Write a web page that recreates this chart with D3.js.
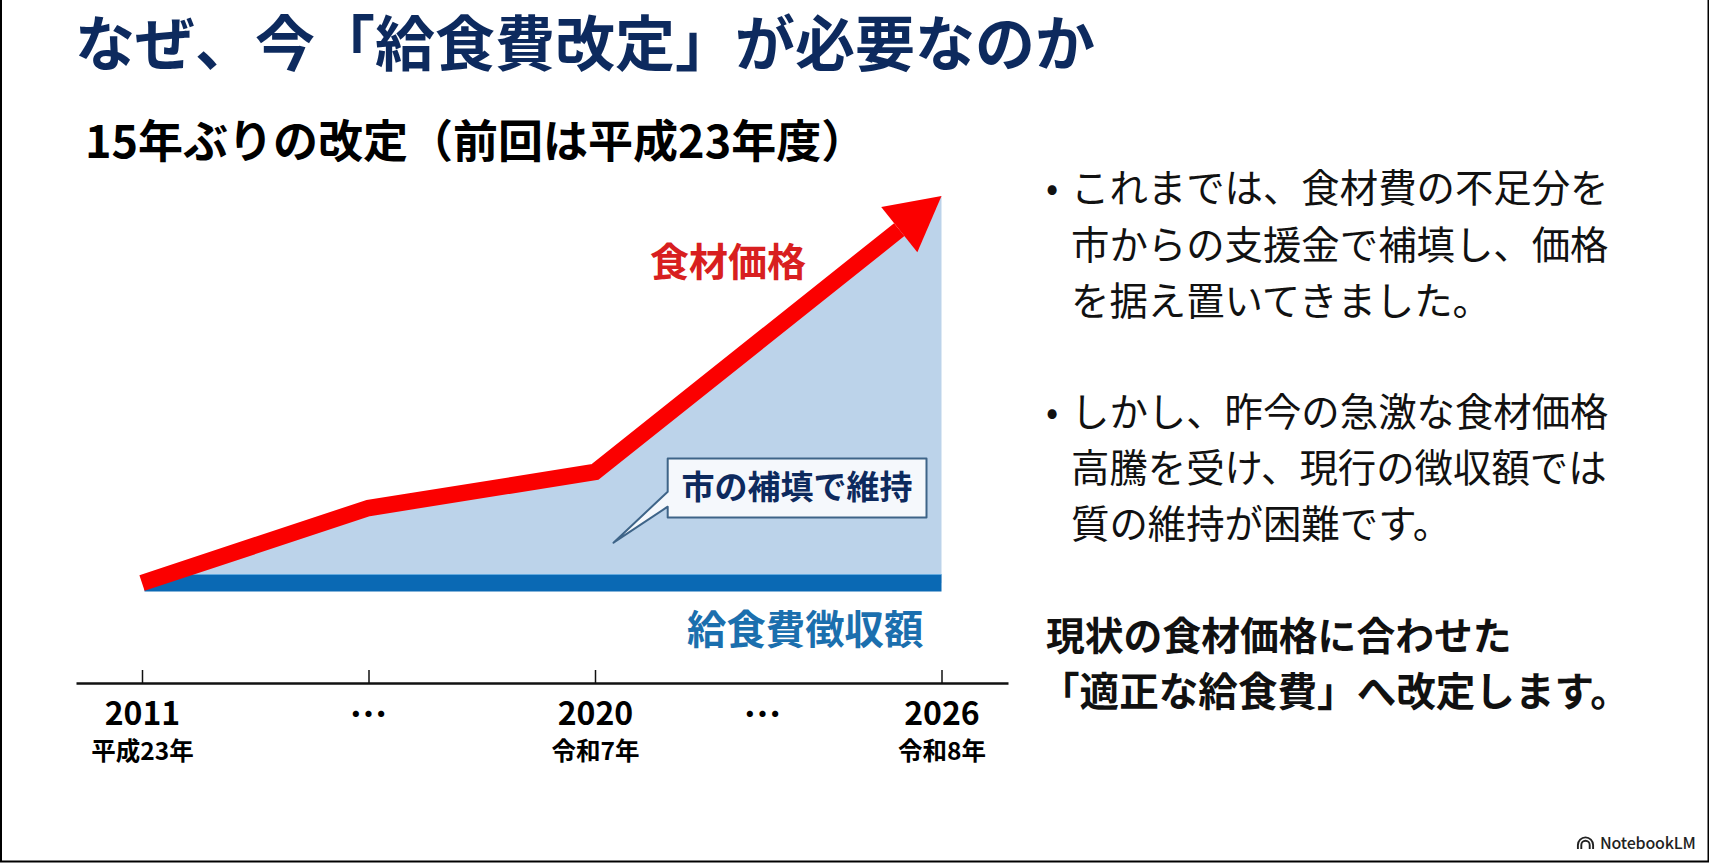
<!DOCTYPE html>
<html lang="ja">
<head>
<meta charset="utf-8">
<title>なぜ、今「給食費改定」が必要なのか</title>
<script src="https://cdn.jsdelivr.net/npm/d3@7/dist/d3.min.js"></script>
<style>
  html, body { margin: 0; padding: 0; background: #fff; overflow: hidden; }
  svg { display: block; }
  text { font-family: "Noto Sans CJK JP", "Noto Sans", sans-serif; }
</style>
</head>
<body>
<script>
// data (index, 2011 = 100)
const years = [2011, 2015.5, 2020, 2026];
const foodPrice = [100, 125, 137, 229];
const feeIncome = [100, 100, 100, 100];
const dotYears = [2015.5, 2022.9];
const tickYears = ["2011", "", "2020", "2026"];
const eraLabels = ["平成23年", "", "令和7年", "令和8年"];

const titleText = "なぜ、今「給食費改定」が必要なのか";
const subtitleText = "15年ぶりの改定（前回は平成23年度）";
const bodyLines = [
  "これまでは、食材費の不足分を",
  "市からの支援金で補填し、価格",
  "を据え置いてきました。",
  "しかし、昨今の急激な食材価格",
  "高騰を受け、現行の徴収額では",
  "質の維持が困難です。"
];
const boldLines = [
  "現状の食材価格に合わせた",
  "「適正な給食費」へ改定します。"
];

const width = 1709, height = 863;

const bodyY = [188, 245, 301, 412, 468, 524];
const bulletY = [188, 412];
const boldY = [636, 692];

const navy = "#0d2a5e", red = "#fb0000", blue = "#0a69b4", sky = "#bcd3ea";

const svg = d3.select("body").append("svg")
    .attr("width", width)
    .attr("height", height)
    .attr("viewBox", [0, 0, width, height]);

svg.append("rect").attr("width", width).attr("height", height).attr("fill", "#fff");

// the axis runs past both end years, and the two hidden stretches differ in scale
let x = d3.scaleLinear()
    .domain([2009.7, 2011, 2020, 2026, 2027.15])
    .range([76, 142, 595, 941.5, 1008]);

let y = d3.scaleLinear()
    .domain([100, 230])
    .range([583, 193]);

let rows = years.map((d, i) => ({year: d, food: foodPrice[i], fee: feeIncome[i]}));

// page frame
svg.append("path")
    .attr("d", `M1,0V${height - 1.5}H${width - 0.5}V0`)
    .attr("fill", "none")
    .attr("stroke", "#000")
    .attr("stroke-width", 2);

// headings
svg.append("text")
    .attr("x", 75).attr("y", 66)
    .attr("font-size", 60).attr("font-weight", 700)
    .attr("fill", navy)
    .text(titleText);

svg.append("text")
    .attr("x", 85).attr("y", 158)
    .attr("font-size", 45).attr("font-weight", 700)
    .attr("fill", "#000")
    .text(subtitleText);

// gap between food price and fee
let gap = d3.area()
    .x(d => x(d.year))
    .y0(d => y(d.fee))
    .y1(d => y(d.food));

svg.append("path")
    .datum(rows)
    .attr("d", gap)
    .attr("fill", sky);

// fee line, starts just inside the red line's cut end
let line = d3.line()
    .x(d => Math.max(x(d.year), x(2011.05)))
    .y(d => y(d.value));

let feeRows = rows.map(d => ({year: d.year, value: d.fee}));

svg.append("path")
    .datum(feeRows)
    .attr("d", line)
    .attr("fill", "none")
    .attr("stroke", blue)
    .attr("stroke-width", 17);

svg.append("path")
    .datum(feeRows)
    .attr("d", line)
    .attr("transform", "translate(0,-8.5)")
    .attr("fill", "none")
    .attr("stroke", "#62a9de")
    .attr("stroke-width", 1.2);

// food price line with the arrow head on its last segment
let headLength = 54, headHalf = 29;
let foodPts = rows.map(d => [x(d.year), y(d.food)]);
let tip = foodPts[foodPts.length - 1];
let prev = foodPts[foodPts.length - 2];
let angle = Math.atan2(tip[1] - prev[1], tip[0] - prev[0]);
let base = [tip[0] - headLength * Math.cos(angle), tip[1] - headLength * Math.sin(angle)];

svg.append("path")
    .attr("d", d3.line()([...foodPts.slice(0, -1), base]))
    .attr("fill", "none")
    .attr("stroke", red)
    .attr("stroke-width", 16.5)
    .attr("stroke-linejoin", "miter");

svg.append("path")
    .attr("d", d3.line()([
      tip,
      [base[0] + headHalf * Math.sin(angle), base[1] - headHalf * Math.cos(angle)],
      [base[0] - headHalf * Math.sin(angle), base[1] + headHalf * Math.cos(angle)]
    ]) + "Z")
    .attr("fill", red);

// series labels
svg.append("text")
    .attr("x", 650).attr("y", 276)
    .attr("font-size", 39).attr("font-weight", 700)
    .attr("fill", "#d81f20")
    .text("食材価格");

svg.append("text")
    .attr("x", 687).attr("y", 644)
    .attr("font-size", 39.4).attr("font-weight", 700)
    .attr("fill", "#1b6fae")
    .text("給食費徴収額");

// callout
svg.append("path")
    .attr("d", "M667.7,458.5H926.5V517.5H667.7V506.7L613.5,542.7L667.7,491.7Z")
    .attr("fill", "#f5f8fc")
    .attr("stroke", "#3e6488")
    .attr("stroke-width", 2)
    .attr("stroke-linejoin", "round");

svg.append("text")
    .attr("x", 797).attr("y", 499)
    .attr("text-anchor", "middle")
    .attr("font-size", 33).attr("font-weight", 700)
    .attr("fill", navy)
    .text("市の補填で維持");

// time axis, ticks point upward
let xAxis = g => g
    .attr("transform", "translate(0,683)")
    .call(d3.axisBottom(x)
        .tickValues(years)
        .tickSize(-13)
        .tickSizeOuter(0)
        .tickFormat((d, i) => tickYears[i]))
    .call(g => g.select(".domain").attr("stroke", "#111").attr("stroke-width", 2.5))
    .call(g => g.selectAll(".tick line").attr("stroke", "#111").attr("stroke-width", 1.5))
    .call(g => g.selectAll(".tick text")
        .attr("y", 42)
        .attr("dy", 0)
        .attr("font-family", "'Noto Sans CJK JP'")
        .attr("font-size", 32)
        .attr("font-weight", 700)
        .attr("fill", "#000"))
    .call(g => g.selectAll(".tick").append("text")
        .attr("y", 77)
        .attr("text-anchor", "middle")
        .attr("font-size", 24.5)
        .attr("font-weight", 700)
        .attr("fill", "#000")
        .text((d, i) => eraLabels[i]));

svg.append("g").call(xAxis);

svg.append("g")
  .selectAll("text")
  .data(dotYears)
  .join("text")
    .attr("x", d => x(d))
    .attr("y", 728)
    .attr("text-anchor", "middle")
    .attr("font-size", 38)
    .attr("font-weight", 700)
    .attr("fill", "#000")
    .text("…");

// right hand copy
svg.append("g")
  .selectAll("text")
  .data(bulletY)
  .join("text")
    .attr("x", 1052)
    .attr("y", d => d)
    .attr("dy", "0.35em")
    .attr("text-anchor", "middle")
    .attr("font-size", 36)
    .attr("fill", "#111")
    .text("•");

svg.append("g")
  .selectAll("text")
  .data(bodyLines)
  .join("text")
    .attr("x", 1071)
    .attr("y", (d, i) => bodyY[i])
    .attr("dy", "0.36em")
    .attr("font-size", 38.4)
    .attr("fill", "#111")
    .text(d => d);

svg.append("g")
  .selectAll("text")
  .data(boldLines)
  .join("text")
    .attr("x", (d, i) => i ? 1040 : 1046)
    .attr("y", (d, i) => boldY[i])
    .attr("dy", "0.36em")
    .attr("font-size", (d, i) => i ? 39.6 : 38.8)
    .attr("font-weight", 700)
    .attr("fill", "#111")
    .text(d => d);

// NotebookLM mark
let mark = svg.append("g")
    .attr("transform", "translate(1585.5,845)")
    .attr("fill", "none")
    .attr("stroke", "#222")
    .attr("stroke-width", 1.9);
[7.6, 4.2].forEach(r => {
  mark.append("path").attr("d", `M${-r},4V0A${r},${r} 0 0 1 ${r},0V4`);
});
svg.append("text")
    .attr("x", 1600).attr("y", 849)
    .attr("font-family", "Inter")
    .attr("font-size", 16)
    .attr("font-weight", 500)
    .attr("letter-spacing", -0.2)
    .attr("fill", "#222")
    .text("NotebookLM");
</script>
</body>
</html>
